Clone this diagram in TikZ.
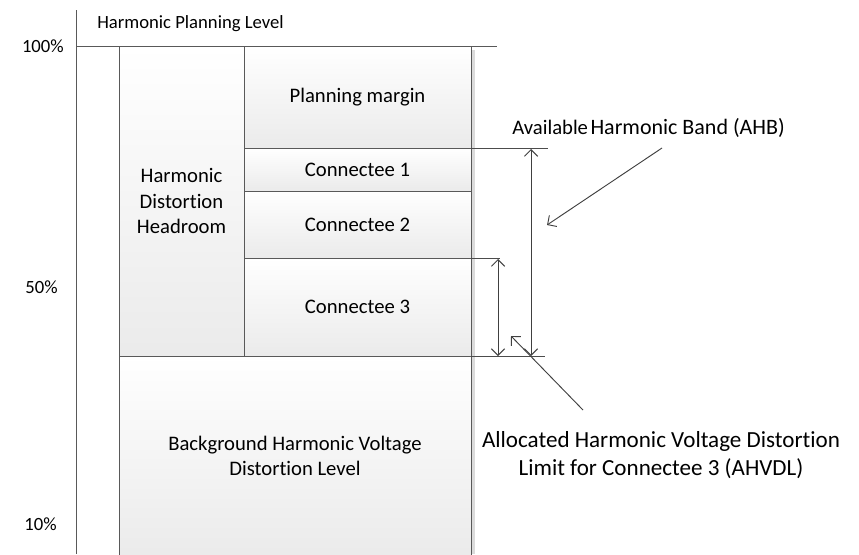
\documentclass[tikz,border=0pt]{standalone}
\usepackage{fontspec}
\setmainfont[Ligatures=NoCommon]{Carlito}
\usetikzlibrary{arrows.meta}
\tikzset{
  boxfont/.style={font=\fontsize{15.5}{19}\selectfont, align=center},
  box/.style={draw=black!65, line width=0.7pt, top color=white, bottom color=black!8,
    anchor=north west, inner sep=0pt, outer sep=0pt, boxfont},
  axis/.style={draw=black!65, line width=0.7pt},
  guide/.style={draw=black!70, line width=0.7pt},
  dim/.style={draw=black!75, line width=0.7pt, {Straight Barb[length=5pt,width=10pt]}-{Straight Barb[length=5pt,width=10pt]}},
  pointer/.style={draw=black!75, line width=0.7pt, -{Straight Barb[length=5pt,width=10pt]}},
  small/.style={font=\fontsize{14}{17}\selectfont, inner sep=0pt},
  big/.style={font=\fontsize{17.3}{21}\selectfont, inner sep=0pt, align=center}
}
\begin{document}
\begin{tikzpicture}[x=0.75pt,y=-0.75pt]
\useasboundingbox (0,0) rectangle (859,554);
% shadow strip
\fill[black!14] (471,50) rectangle (475,554);
% boxes
\node[box, minimum width=93.75pt, minimum height=232.5pt] (head) at (119,46) {Harmonic\\Distortion\\Headroom};
\node[box, minimum width=170.25pt, minimum height=76.5pt] (pm) at (244,46) {Planning margin};
\node[box, minimum width=170.25pt, minimum height=32.25pt] (c1) at (244,148) {Connectee 1};
\node[box, minimum width=170.25pt, minimum height=50.25pt] (c2) at (244,191) {Connectee 2};
\node[box, minimum width=170.25pt, minimum height=73.5pt] (c3) at (244,258) {Connectee 3};
\node[box, minimum width=264pt, minimum height=150pt] (bg) at (119,356) {};
\node[boxfont, inner sep=0pt] (bgt) at (295,456) {Background Harmonic Voltage\\Distortion Level};
% axes
\coordinate (atop) at (76,10);
\coordinate (abot) at (76,554);
\coordinate (hend) at (497,46);
\draw[axis] (atop) -- (abot);
\draw[axis] (76,46) -- (hend);
% labels
\node[small, anchor=base west] (hpl) at (97,28) {Harmonic Planning Level};
\node[small, anchor=base east] (p100) at (64,52) {100\%};
\node[small, anchor=base east] (p50) at (58,293) {50\%};
\node[small, anchor=base east] (p10) at (57,530) {10\%};
% guide lines
\coordinate (g1) at (548,148);
\coordinate (g2) at (500,258);
\coordinate (g3) at (545,356);
\draw[guide] (c1.north east) -- (g1);
\draw[guide] (c3.north east) -- (g2);
\draw[guide] (c3.south east) -- (g3);
% dimension arrows
\coordinate (ahbT) at (531,149);
\coordinate (ahbB) at (531,356);
\coordinate (c3T) at (498,259);
\coordinate (c3B) at (498,356);
\draw[dim] (ahbT) -- (ahbB);
\draw[dim] (c3T) -- (c3B);
% pointer arrows
\coordinate (p1s) at (662,148);
\coordinate (p1e) at (547,225);
\coordinate (p2s) at (583,410);
\coordinate (p2e) at (511,336);
\draw[pointer] (p1s) -- (p1e);
\draw[pointer] (p2s) -- (p2e);
% annotations
\node[anchor=base west, inner sep=0pt] (ahb) at (512,134) {\fontsize{15.5}{19}\selectfont Available\hspace{0.12em}\fontsize{16.5}{20}\selectfont Harmonic Band (AHB)};
\node[big] (ahvdl) at (661,455) {Allocated Harmonic Voltage Distortion\\Limit for Connectee 3 (AHVDL)};
\end{tikzpicture}
\end{document}
